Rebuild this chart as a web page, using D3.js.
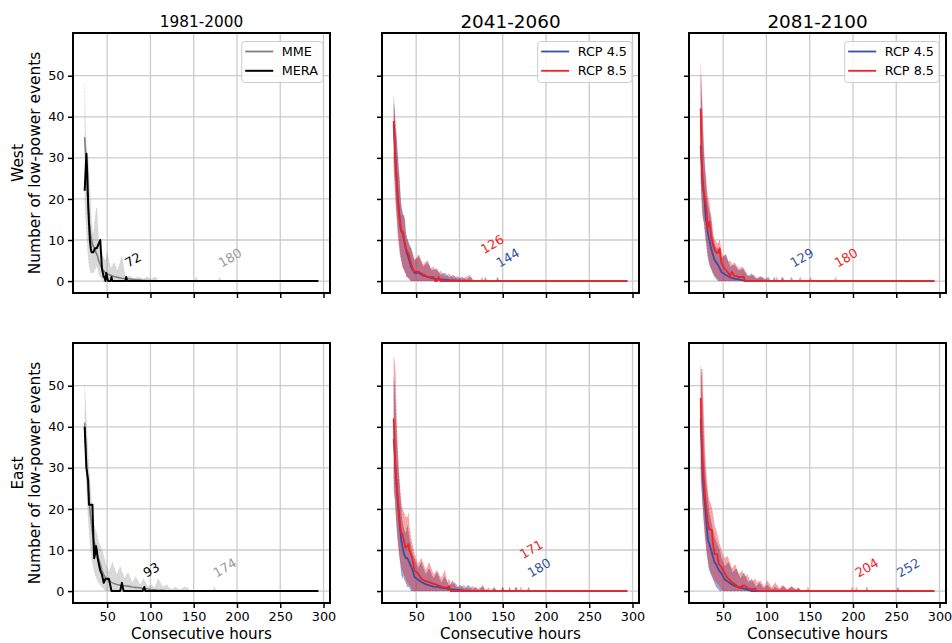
<!DOCTYPE html>
<html lang="en">
<head>
<meta charset="UTF-8">
<title>Low-power events</title>
<script src="https://d3js.org/d3.v7.min.js"></script>
<style>
    body { margin: 0; background: #fff; }
    svg { display: block; font-family: 'DejaVu Sans', sans-serif; }
    .grid line { stroke: #cbcbcb; stroke-width: 1.3; }
    .axis path { display: none; }
    .axis line { stroke: #000; stroke-width: 1.5; }
    .axis text { font-size: 12.8px; fill: #000; font-family: 'DejaVu Sans', sans-serif; }
</style>
</head>
<body>
<svg id="chart" width="952" height="643"></svg>
<script>
// rows: [hour, min, mean, max] over the model ensemble
const westHistMME = [
    [24, 20, 35, 48], [25, 16, 31, 36], [26, 12, 27, 33], [27, 9, 22, 31], [28, 6, 18, 30],
    [29, 4, 15, 26], [30, 3, 13, 22], [31, 2, 11, 18], [32, 2, 10, 14], [33, 2, 9, 12],
    [34, 2, 8.5, 11], [35, 2.5, 8, 13], [36, 3, 7.5, 15], [37, 3, 7, 17], [38, 4, 6.5, 18],
    [39, 3, 6, 14], [40, 2, 5, 10], [41, 1.5, 4.5, 9], [42, 1, 4, 7.5], [44, 0.5, 3, 6.5],
    [46, 0, 2.5, 5.5], [48, 0, 2, 5], [50, 0, 1.8, 7], [54, 0, 1.4, 3], [58, 0, 1.1, 4.5],
    [62, 0, 0.9, 2.5], [67, 0, 0.7, 6], [71, 0, 0.6, 1], [76, 0, 0.5, 1.2], [81, 0, 0.4, 0.6],
    [86, 0, 0.3, 1], [91, 0, 0.2, 0.5], [96, 0, 0.15, 1], [101, 0, 0.1, 0.5], [106, 0, 0.05, 1],
    [109, 0, 0, 0], [151, 0, 0, 0], [153, 0, 0, 1], [155, 0, 0, 0], [178, 0, 0, 0],
    [180, 0, 0, 1], [182, 0, 0, 0], [294, 0, 0, 0]
];
// rows: [hour, count]
const westHistMERA = [
    [24, 22], [26, 31], [27, 26], [28, 19], [29, 14], [30, 10], [31, 8], [32, 7], [34, 7],
    [36, 8], [38, 8], [40, 9], [42, 10], [44, 3], [46, 1], [47, 1], [48, 0], [49, 2], [50, 1],
    [51, 0], [54, 0], [55, 1], [56, 0], [71, 0], [72, 1], [73, 0], [294, 0]
];
const west2041RCP45 = [
    [24, 30, 38, 45], [25, 26, 34, 42], [26, 22, 30, 38], [27, 18, 26, 36], [28, 15, 23, 33],
    [29, 12, 20, 30], [30, 10, 17, 27], [31, 8, 15, 24], [32, 6, 13, 20], [33, 5, 12, 18],
    [34, 4, 12, 17], [35, 3, 11, 16], [36, 3, 10, 16], [37, 2, 9, 15], [38, 2, 8, 12],
    [39, 1, 7, 11], [40, 1, 6.5, 10], [42, 0.5, 5, 9], [44, 0, 3.5, 8], [48, 0, 2, 5],
    [53, 0, 2, 6], [58, 0, 1.3, 3.5], [63, 0, 1, 4.5], [68, 0, 0.7, 2.5], [73, 0, 0.5, 3],
    [78, 0, 0.4, 1.5], [83, 0, 0.3, 2], [88, 0, 0.2, 0.8], [93, 0, 0.15, 1.5], [98, 0, 0.1, 0.5],
    [103, 0, 0.05, 1], [108, 0, 0.05, 0.4], [113, 0, 0, 1], [117, 0, 0, 0], [128, 0, 0, 0],
    [130, 0, 0, 1], [132, 0, 0, 0], [142, 0, 0, 0], [144, 0, 0, 1], [146, 0, 0, 0], [294, 0, 0, 0]
];
const west2041RCP85 = [
    [24, 28, 39, 43], [25, 24, 35, 41], [26, 20, 30, 38], [27, 17, 26, 35], [28, 14, 22, 31],
    [29, 11, 19, 28], [30, 9, 17, 26], [31, 7, 15, 23], [32, 6, 13, 19], [33, 5, 12, 17],
    [34, 4, 12, 16], [35, 3, 12, 16], [36, 3, 10, 15], [37, 2, 9, 13], [38, 2, 8, 11],
    [39, 1, 7.5, 10], [40, 1, 7, 10], [41, 1, 6.8, 9], [42, 0.5, 6, 8.5], [44, 0, 4.4, 8],
    [46, 0, 3, 6.5], [48, 0, 2.3, 5], [53, 0, 2.3, 6.5], [58, 0, 1.6, 4], [63, 0, 1.1, 5],
    [67, 0, 1, 3], [70, 0, 1, 3.5], [72, 0, 0, 2.5], [74, 0, 0, 3], [76, 0, 1, 2],
    [78, 0, 0, 2.5], [83, 0, 0, 1], [88, 0, 0, 1.8], [93, 0, 0, 0.6], [98, 0, 0, 1.2],
    [103, 0, 0, 0.4], [108, 0, 0, 1], [112, 0, 0, 1.5], [115, 0, 0, 0], [124, 0, 0, 0],
    [126, 0, 0, 1], [128, 0, 0, 0], [294, 0, 0, 0]
];
const west2081RCP45 = [
    [24, 25, 33, 50], [25, 20, 29, 45], [26, 16, 24, 40], [27, 15, 22, 34], [28, 14, 21, 30],
    [29, 12, 18, 27], [30, 10, 15, 24], [31, 8, 14, 21], [32, 6, 12, 19], [33, 5, 11, 18],
    [34, 4, 10, 17], [36, 3, 8, 15], [38, 2, 6.5, 11], [40, 1, 5.2, 9], [42, 0.5, 4.5, 8],
    [44, 0, 4, 8], [48, 0, 2.2, 5.5], [53, 0, 1.5, 6.5], [58, 0, 0.9, 3.5], [63, 0, 0.6, 4],
    [68, 0, 0.4, 2.5], [73, 0, 0.2, 3], [78, 0, 0, 1.2], [83, 0, 0, 1.8], [88, 0, 0, 0.5],
    [93, 0, 0, 1.2], [98, 0, 0, 0.3], [102, 0, 0, 1], [105, 0, 0, 0], [107, 0, 0, 0],
    [109, 0, 0, 1], [111, 0, 0, 0], [116, 0, 0, 0], [118, 0, 0, 1], [120, 0, 0, 0],
    [127, 0, 0, 0], [129, 0, 0, 1], [131, 0, 0, 0], [294, 0, 0, 0]
];
const west2081RCP85 = [
    [24, 26, 42, 53], [25, 22, 30, 48], [26, 18, 26, 42], [27, 16, 23, 36], [28, 14, 21, 31],
    [29, 12, 20, 27], [30, 10, 19, 25], [31, 9, 16, 23], [32, 7, 13, 21], [33, 6, 13.5, 20],
    [34, 5, 14.5, 19], [35, 4, 13, 17], [36, 3, 11, 16], [37, 3, 10, 14], [38, 2, 9, 12],
    [40, 1.5, 7.6, 10], [42, 1, 7, 9.5], [44, 0.5, 6.8, 9], [46, 0, 8, 10], [47, 0, 6, 8.5],
    [48, 0, 4.5, 7], [50, 0, 3.5, 6], [53, 0, 2.7, 6.5], [56, 0, 2, 4.5], [58, 0, 1.2, 5],
    [60, 0, 2.2, 4], [63, 0, 1.3, 4.5], [68, 0, 1, 3], [72, 0, 1, 3.5], [74, 0, 1, 3],
    [75, 0, 0, 2.5], [80, 0, 0, 1], [85, 0, 0, 1.5], [90, 0, 0, 0.5], [95, 0, 0, 1],
    [100, 0, 0, 0.3], [104, 0, 0, 0], [110, 0, 0, 0], [112, 0, 0, 1], [114, 0, 0, 0],
    [117, 0, 0, 0], [119, 0, 0, 1], [121, 0, 0, 0], [137, 0, 0, 0], [139, 0, 0, 1],
    [141, 0, 0, 0], [149, 0, 0, 0], [151, 0, 0, 1], [153, 0, 0, 0], [178, 0, 0, 0],
    [180, 0, 0, 1], [182, 0, 0, 0], [294, 0, 0, 0]
];

const eastHistMME = [
    [24, 38, 41, 50], [25, 32, 36, 46], [26, 26, 31, 41], [27, 22, 28, 37], [28, 18, 25, 33],
    [29, 15, 22, 30], [30, 12, 20, 27], [31, 10, 18, 24], [32, 8, 16, 21], [33, 7, 14, 19],
    [34, 6, 13, 17], [35, 5, 12, 16], [36, 4, 11, 15], [38, 3, 9, 14], [40, 2, 8, 12],
    [42, 1.5, 6.5, 11], [44, 1, 5, 10], [46, 0.5, 4, 8.5], [48, 0, 3.2, 7], [52, 0, 2.5, 4.5],
    [56, 0, 2, 7], [61, 0, 1.6, 4], [65, 0, 1.4, 6], [70, 0, 1.3, 3], [74, 0, 1.2, 4.5],
    [79, 0, 1, 2], [83, 0, 0.9, 3.5], [88, 0, 0.8, 1.5], [92, 0, 0.6, 3], [97, 0, 0.5, 1],
    [101, 0, 0.3, 1.5], [105, 0, 0.3, 0.8], [109, 0, 0.2, 3], [114, 0, 0.2, 1], [119, 0, 0.1, 1.5],
    [124, 0, 0.1, 0.4], [129, 0, 0.05, 1], [134, 0, 0, 0.3], [139, 0, 0, 1], [143, 0, 0, 0.8],
    [146, 0, 0, 0], [172, 0, 0, 0], [174, 0, 0, 1], [176, 0, 0, 0], [294, 0, 0, 0]
];
const eastHistMERA = [
    [24, 40], [26, 30], [28, 27], [29, 21], [33, 21], [34, 13], [35, 8], [36, 9], [37, 11],
    [38, 10], [39, 8], [40, 7], [41, 6], [42, 5], [44, 4], [46, 2], [48, 3], [52, 3], [53, 2],
    [55, 0], [65, 0], [67, 2], [69, 0], [91, 0], [93, 1], [94, 0], [294, 0]
];
const east2041RCP45 = [
    [24, 28, 37, 52], [25, 24, 34, 50], [26, 20, 30, 45], [27, 17, 27, 40], [28, 14, 24, 35],
    [29, 12, 21, 31], [30, 10, 19, 28], [31, 8, 16, 25], [32, 6, 14, 22], [33, 4, 12, 19],
    [34, 3, 11, 17], [35, 4, 10, 16], [36, 3, 9, 15], [38, 2, 8, 14], [40, 1, 8, 16],
    [42, 1, 7, 13], [44, 0, 6, 11], [46, 0, 5, 9], [48, 0, 3.5, 8], [52, 0, 2.8, 5.5],
    [56, 0, 2.2, 7], [61, 0, 1.7, 4], [65, 0, 1.4, 5.5], [70, 0, 1.1, 3], [74, 0, 1, 4.5],
    [79, 0, 0.8, 2], [83, 0, 0.7, 3.5], [88, 0, 0.5, 1.2], [92, 0, 0.4, 2.5], [97, 0, 0.3, 0.8],
    [101, 0, 0.2, 1.5], [106, 0, 0.1, 0.5], [110, 0, 0.1, 1.5], [115, 0, 0, 0.3], [119, 0, 0, 1],
    [123, 0, 0, 0], [127, 0, 0, 1.5], [130, 0, 0, 0], [136, 0, 0, 0], [140, 0, 0, 0.8],
    [144, 0, 0, 0], [148, 0, 0, 0], [150, 0, 0, 1], [152, 0, 0, 0], [156, 0, 0, 0],
    [158, 0, 0, 1], [160, 0, 0, 0], [163, 0, 0, 0], [165, 0, 0, 1], [167, 0, 0, 0],
    [178, 0, 0, 0], [180, 0, 0, 1], [182, 0, 0, 0], [294, 0, 0, 0]
];
const east2041RCP85 = [
    [24, 25, 42, 57], [25, 23, 36, 56], [26, 22, 30, 53], [27, 18, 27, 45], [28, 15, 24, 38],
    [29, 12, 22, 33], [30, 10, 19, 29], [31, 8, 17, 26], [32, 7, 15, 23], [33, 6, 14, 21],
    [34, 5, 14, 20], [36, 4, 12, 19], [38, 3, 10.5, 18], [40, 2, 11, 18], [41, 2, 11.5, 19],
    [42, 1.5, 10, 16], [44, 1, 9, 13], [46, 0, 7.5, 11], [48, 0, 5, 9], [52, 0, 4.3, 6.5],
    [56, 0, 3, 8], [61, 0, 2.4, 5], [65, 0, 2.2, 7], [70, 0, 1.8, 4], [74, 0, 1.5, 5],
    [79, 0, 1.1, 3], [83, 0, 0.9, 5], [86, 0, 0.8, 2], [88, 0, 1.2, 3], [90, 0, 0, 1.5],
    [95, 0, 0, 2], [100, 0, 0, 0.6], [105, 0, 0, 1.5], [110, 0, 0, 0.4], [115, 0, 0, 1.2],
    [120, 0, 0, 0.3], [125, 0, 0, 1], [130, 0, 0, 0.3], [134, 0, 0, 0.8], [137, 0, 0, 0],
    [138, 0, 0, 0], [140, 0, 0, 1], [142, 0, 0, 0], [148, 0, 0, 0], [150, 0, 0, 1],
    [152, 0, 0, 0], [164, 0, 0, 0], [166, 0, 0, 1], [168, 0, 0, 0], [169, 0, 0, 0],
    [171, 0, 0, 1], [173, 0, 0, 0], [294, 0, 0, 0]
];
const east2081RCP45 = [
    [24, 30, 42, 55], [25, 26, 36, 52], [26, 22, 30, 47], [27, 19, 26, 40], [28, 16, 23, 34],
    [29, 14, 21, 30], [30, 12, 18, 27], [31, 10, 16, 25], [32, 8, 13, 23], [33, 6, 12, 21],
    [34, 5, 11.5, 19], [36, 4, 10, 17], [38, 3, 8.5, 15], [40, 2, 7, 13], [42, 1, 6.5, 12],
    [44, 0.5, 5.5, 11], [46, 0, 4.8, 10], [48, 0, 4.3, 8], [52, 0, 2.8, 6], [56, 0, 2.2, 7],
    [61, 0, 1.5, 4.5], [65, 0, 1.1, 5.5], [70, 0, 0.8, 3], [74, 0, 0.6, 4.5], [79, 0, 0.3, 2],
    [83, 0, 0, 3], [88, 0, 0, 1], [92, 0, 0, 2], [97, 0, 0, 0.6], [101, 0, 0, 1.5],
    [106, 0, 0, 0.4], [110, 0, 0, 1], [115, 0, 0, 0.3], [119, 0, 0, 1.2], [124, 0, 0, 0.3],
    [129, 0, 0, 1], [134, 0, 0, 0.3], [137, 0, 0, 0.8], [140, 0, 0, 0], [214, 0, 0, 0],
    [216, 0, 0, 1], [218, 0, 0, 0], [250, 0, 0, 0], [252, 0, 0, 1], [254, 0, 0, 0], [294, 0, 0, 0]
];
const east2081RCP85 = [
    [24, 28, 47, 52], [25, 25, 38, 54], [26, 22, 33, 54], [27, 19, 29, 46], [28, 16, 26, 40],
    [29, 13, 23, 34], [30, 11, 21, 30], [31, 9, 19, 27], [32, 8, 17, 25], [33, 7, 16, 23],
    [34, 6, 15, 22], [36, 4.5, 15, 21], [37, 4, 14.8, 20], [38, 3.5, 12, 19], [40, 2.5, 9, 16],
    [43, 2, 9, 14], [45, 1.5, 6.6, 12], [48, 0.5, 5.8, 10], [51, 0, 4.6, 8], [55, 0, 3.2, 8.5],
    [60, 0, 2.2, 5.5], [64, 0, 1.6, 6.5], [68, 0, 0.8, 4], [72, 0, 1.2, 5], [74, 0, 1.4, 3.5],
    [78, 0, 0.8, 4], [82, 0, 0.4, 2], [87, 0, 0.6, 3], [89, 0, 0, 2], [93, 0, 0, 2.5],
    [97, 0, 0, 1], [101, 0, 0, 2.5], [106, 0, 0, 0.8], [110, 0, 0, 2], [115, 0, 0, 0.6],
    [119, 0, 0, 1.5], [124, 0, 0, 0.4], [129, 0, 0, 1.2], [134, 0, 0, 0.3], [137, 0, 0, 0.8],
    [140, 0, 0, 0], [146, 0, 0, 0], [148, 0, 0, 1], [150, 0, 0, 0], [197, 0, 0, 0],
    [199, 0, 0, 1], [201, 0, 0, 0], [202, 0, 0, 0], [204, 0, 0, 1], [206, 0, 0, 0], [294, 0, 0, 0]
];

// longest-event labels: [text, hour, y, series]
const westHistLabels = [["72", 72, 3, "mera"], ["180", 180, 3, "mme"]];
const west2041Labels = [["126", 126, 6.3, "rcp85"], ["144", 144, 3, "rcp45"]];
const west2081Labels = [["129", 129, 3, "rcp45"], ["180", 180, 3, "rcp85"]];
const eastHistLabels = [["93", 93, 3, "mera"], ["174", 174, 3, "mme"]];
const east2041Labels = [["171", 171, 7.5, "rcp85"], ["180", 180, 3, "rcp45"]];
const east2081Labels = [["204", 204, 3, "rcp85"], ["252", 252, 3, "rcp45"]];

const periods = ["1981-2000", "2041-2060", "2081-2100"];
const regions = ["West", "East"];
const xTicks = [50, 100, 150, 200, 250, 300];
const yTicks = [0, 10, 20, 30, 40, 50];

const colors = { mme: "#808080", mera: "#000000", rcp45: "#3550a5", rcp85: "#f02222" };
const labelColors = { mme: "#999999", mera: "#000000", rcp45: "#3550a5", rcp85: "#f02222" };
const fillOpacity = { mme: 0.3, rcp45: 0.5, rcp85: 0.4 };
const names = { mme: "MME", mera: "MERA", rcp45: "RCP 4.5", rcp85: "RCP 8.5" };

const panels = [
    { bands: [["mme", westHistMME]], lines: [["mera", westHistMERA]], labels: westHistLabels, legend: ["mme", "mera"] },
    { bands: [["rcp45", west2041RCP45], ["rcp85", west2041RCP85]], lines: [], labels: west2041Labels, legend: ["rcp45", "rcp85"] },
    { bands: [["rcp45", west2081RCP45], ["rcp85", west2081RCP85]], lines: [], labels: west2081Labels, legend: ["rcp45", "rcp85"] },
    { bands: [["mme", eastHistMME]], lines: [["mera", eastHistMERA]], labels: eastHistLabels, legend: null },
    { bands: [["rcp45", east2041RCP45], ["rcp85", east2041RCP85]], lines: [], labels: east2041Labels, legend: null },
    { bands: [["rcp45", east2081RCP45], ["rcp85", east2081RCP85]], lines: [], labels: east2081Labels, legend: null }
];

const PW = 257, PH = 260;
const lefts = [73, 382, 689];
const tops = [33, 343];

const x = d3.scaleLinear().domain([10.5, 307.5]).range([0, PW]);
const y = d3.scaleLinear().domain([-2.9, 60.4]).range([PH, 0]);

const svg = d3.select("#chart");

const area = d3.area().x(d => x(d[0])).y0(d => y(d[1])).y1(d => y(d[3]));
const meanLine = d3.line().x(d => x(d[0])).y(d => y(d[2]));
const loLine = d3.line().x(d => x(d[0])).y(d => y(d[1]));
const hiLine = d3.line().x(d => x(d[0])).y(d => y(d[3]));
const simpleLine = d3.line().x(d => x(d[0])).y(d => y(d[1]));

panels.forEach((p, i) => {
    const row = Math.floor(i / 3), col = i % 3;
    const g = svg.append("g").attr("transform", `translate(${lefts[col]},${tops[row]})`);

    // grid
    const grid = g.append("g").attr("class", "grid");
    grid.selectAll(".gx").data(xTicks).enter().append("line")
        .attr("x1", d => x(d)).attr("x2", d => x(d)).attr("y1", 0).attr("y2", PH);
    grid.selectAll(".gy").data(yTicks).enter().append("line")
        .attr("y1", d => y(d)).attr("y2", d => y(d)).attr("x1", 0).attr("x2", PW);

    // ensemble bands
    p.bands.forEach(([key, rows]) => {
        g.append("path").datum(rows).attr("d", area)
            .attr("fill", colors[key]).attr("fill-opacity", fillOpacity[key]).attr("stroke", "none");
        [loLine, hiLine].forEach(fn => {
            g.append("path").datum(rows).attr("d", fn)
                .attr("fill", "none").attr("stroke", colors[key]).attr("stroke-opacity", 0.3)
                .attr("stroke-width", 0.6).attr("stroke-dasharray", "2,1.5");
        });
    });
    // ensemble means
    p.bands.forEach(([key, rows]) => {
        g.append("path").datum(rows).attr("d", meanLine)
            .attr("fill", "none").attr("stroke", colors[key])
            .attr("stroke-width", key === "mme" ? 1.6 : 1.8).attr("stroke-linejoin", "round");
    });
    // reanalysis
    p.lines.forEach(([key, rows]) => {
        g.append("path").datum(rows).attr("d", simpleLine)
            .attr("fill", "none").attr("stroke", colors[key]).attr("stroke-width", 2)
            .attr("stroke-linejoin", "round");
    });

    // labels for the longest event
    p.labels.forEach(([txt, hx, hy, key]) => {
        g.append("text")
            .attr("transform", `translate(${x(hx) + 2},${y(hy) - 1}) rotate(-30)`)
            .attr("font-size", 12.8).attr("fill", labelColors[key]).text(txt);
    });

    // axes
    const yAxis = d3.axisLeft(y).tickValues(yTicks).tickSize(5).tickPadding(3.5);
    if (col > 0) yAxis.tickFormat("");
    g.append("g").attr("class", "axis").call(yAxis);
    const xAxis = d3.axisBottom(x).tickValues(xTicks).tickSize(5).tickPadding(3.5);
    if (row === 0) xAxis.tickFormat("");
    g.append("g").attr("class", "axis").attr("transform", `translate(0,${PH})`).call(xAxis);

    // frame
    g.append("rect").attr("width", PW).attr("height", PH)
        .attr("fill", "none").attr("stroke", "#000").attr("stroke-width", 2);

    if (row === 0) {
        g.append("text").attr("x", PW / 2).attr("y", col === 0 ? -6.5 : -5)
            .attr("text-anchor", "middle").attr("font-size", col === 0 ? 15.3 : 18.4)
            .attr("fill", "#000").text(periods[col]);
    }
    if (row === 1) {
        g.append("text").attr("x", PW / 2).attr("y", PH + 35.8)
            .attr("text-anchor", "middle").attr("font-size", 15.2).attr("fill", "#000")
            .text("Consecutive hours");
    }
    if (col === 0) {
        g.append("text").attr("transform", `translate(${22.5 - lefts[0]},${PH / 2}) rotate(-90)`)
            .attr("text-anchor", "middle").attr("font-size", 15.4).attr("fill", "#000")
            .text(regions[row]);
        g.append("text").attr("transform", `translate(${40 - lefts[0]},${PH / 2}) rotate(-90)`)
            .attr("text-anchor", "middle").attr("font-size", 15.4).attr("fill", "#000")
            .text("Number of low-power events");
    }

    // legend
    if (p.legend) {
        const lg = g.append("g");
        const box = lg.append("rect").attr("rx", 3).attr("ry", 3)
            .attr("fill", "#fff").attr("fill-opacity", 0.8)
            .attr("stroke", "#cccccc").attr("stroke-width", 1);
        let maxW = 0;
        p.legend.forEach((key, k) => {
            const ly = 10 + k * 19.3;
            lg.append("line").attr("x1", 3.5).attr("x2", 31.5).attr("y1", ly).attr("y2", ly)
                .attr("stroke", colors[key]).attr("stroke-width", key === "mera" ? 2 : 1.8);
            const t = lg.append("text").attr("x", 40).attr("y", ly + 4.6)
                .attr("font-size", 12.8).attr("fill", "#000").text(names[key]);
            maxW = Math.max(maxW, t.node().getComputedTextLength());
        });
        const bw = 40 + maxW + 5;
        box.attr("width", bw).attr("height", 41);
        lg.attr("transform", `translate(${PW - 7 - bw},${8.5})`);
    }
});
</script>
</body>
</html>
